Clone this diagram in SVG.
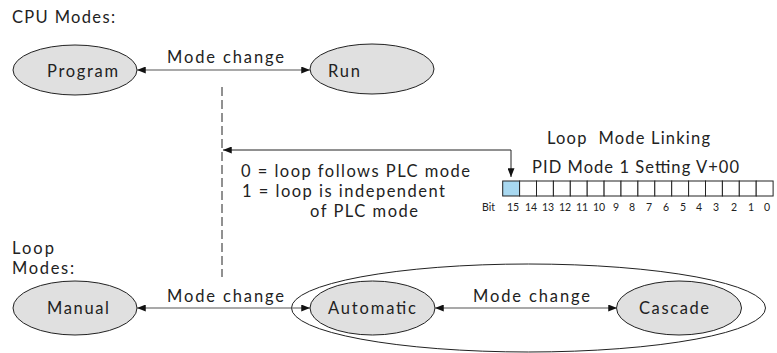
<svg xmlns="http://www.w3.org/2000/svg" width="777" height="353" viewBox="0 0 777 353">
<style>
text{font-family:Lato,"Open Sans","DejaVu Sans",sans-serif;fill:#222;}
.t{font-size:16.5px;}
.s{font-size:10.5px;}
.node{fill:#e0e0e0;stroke:#222;stroke-width:1;}
.outer{fill:none;stroke:#222;stroke-width:1;}
.conn{fill:none;stroke:#555;stroke-width:1.2;}
.link{fill:none;stroke:#222;stroke-width:1;}
.dash{fill:none;stroke:#222;stroke-width:1;stroke-dasharray:9 4;}
.box{fill:#fff;stroke:#222;stroke-width:1;}
.on{fill:#a8d8f0;}
.bit{text-anchor:middle;}
</style>
<defs>
<marker id="ah" viewBox="0 0 10 8" refX="10" refY="4" markerWidth="9" markerHeight="7" markerUnits="userSpaceOnUse" orient="auto-start-reverse">
<path d="M0,0 L10,4 L0,8 z" fill="#111"/>
</marker>
</defs>
<rect width="777" height="353" fill="#fff"/>

<g id="labels">
<text class="t" x="12" y="23" textLength="103" lengthAdjust="spacing">CPU Modes:</text>
<text class="t" x="12" y="253.5" textLength="42" lengthAdjust="spacing">Loop</text>
<text class="t" x="12" y="273.5" textLength="62" lengthAdjust="spacing">Modes:</text>
<text class="t" x="167" y="63" textLength="117" lengthAdjust="spacing">Mode change</text>
<text class="t" x="167" y="302" textLength="117" lengthAdjust="spacing">Mode change</text>
<text class="t" x="473" y="302" textLength="117" lengthAdjust="spacing">Mode change</text>
</g>

<g id="loop-group">
<ellipse class="outer" cx="528.5" cy="308" rx="237" ry="44"/>
</g>

<g id="program">
<ellipse class="node" cx="75" cy="70" rx="62" ry="25"/>
<text class="t" x="47" y="77" textLength="71" lengthAdjust="spacing">Program</text>
</g>
<g id="run">
<ellipse class="node" cx="372" cy="69" rx="62" ry="25"/>
<text class="t" x="328" y="77" textLength="32" lengthAdjust="spacing">Run</text>
</g>
<g id="manual">
<ellipse class="node" cx="75" cy="308" rx="62" ry="27"/>
<text class="t" x="47" y="314" textLength="62" lengthAdjust="spacing">Manual</text>
</g>
<g id="automatic">
<ellipse class="node" cx="372.5" cy="308" rx="62.5" ry="27"/>
<text class="t" x="328" y="314" textLength="88" lengthAdjust="spacing">Automatic</text>
</g>
<g id="cascade">
<ellipse class="node" cx="679" cy="308" rx="62.5" ry="27"/>
<text class="t" x="639" y="314" textLength="70" lengthAdjust="spacing">Cascade</text>
</g>

<g id="linking-notes">
<text class="t" x="241" y="177" textLength="229" lengthAdjust="spacing">0 = loop follows PLC mode</text>
<text class="t" x="242" y="197" textLength="203" lengthAdjust="spacing">1 = loop is independent</text>
<text class="t" x="310" y="217" textLength="108" lengthAdjust="spacing">of PLC mode</text>
</g>

<g id="register">
<text class="t" x="547" y="144" textLength="163" lengthAdjust="spacing" style="white-space:pre">Loop  Mode Linking</text>
<text class="t" x="532" y="173" textLength="207" lengthAdjust="spacing">PID Mode 1 Setting V+00</text>
<rect class="box on" x="502.7" y="181" width="16.9" height="15"/>
<rect class="box" x="519.6" y="181" width="16.9" height="15"/>
<rect class="box" x="536.5" y="181" width="16.9" height="15"/>
<rect class="box" x="553.4" y="181" width="16.9" height="15"/>
<rect class="box" x="570.3" y="181" width="16.9" height="15"/>
<rect class="box" x="587.2" y="181" width="16.9" height="15"/>
<rect class="box" x="604.1" y="181" width="16.9" height="15"/>
<rect class="box" x="621.0" y="181" width="16.9" height="15"/>
<rect class="box" x="637.9" y="181" width="16.9" height="15"/>
<rect class="box" x="654.8" y="181" width="16.9" height="15"/>
<rect class="box" x="671.7" y="181" width="16.9" height="15"/>
<rect class="box" x="688.6" y="181" width="16.9" height="15"/>
<rect class="box" x="705.5" y="181" width="16.9" height="15"/>
<rect class="box" x="722.4" y="181" width="16.9" height="15"/>
<rect class="box" x="739.3" y="181" width="16.9" height="15"/>
<rect class="box" x="756.2" y="181" width="16.9" height="15"/>
<text class="s" x="482" y="211">Bit</text>
<text class="s bit" x="513" y="211">15</text>
<text class="s bit" x="531" y="211">14</text>
<text class="s bit" x="548" y="211">13</text>
<text class="s bit" x="565" y="211">12</text>
<text class="s bit" x="582" y="211">11</text>
<text class="s bit" x="599" y="211">10</text>
<text class="s bit" x="616" y="211">9</text>
<text class="s bit" x="632" y="211">8</text>
<text class="s bit" x="649" y="211">7</text>
<text class="s bit" x="666" y="211">6</text>
<text class="s bit" x="683" y="211">5</text>
<text class="s bit" x="699" y="211">4</text>
<text class="s bit" x="716" y="211">3</text>
<text class="s bit" x="734" y="211">2</text>
<text class="s bit" x="751" y="211">1</text>
<text class="s bit" x="767" y="211">0</text>
</g>

<g id="connectors">
<path class="conn" d="M137,70 H310" marker-start="url(#ah)" marker-end="url(#ah)"/>
<path class="conn" d="M137,308 H310" marker-start="url(#ah)" marker-end="url(#ah)"/>
<path class="conn" d="M435,308 H617" marker-start="url(#ah)" marker-end="url(#ah)"/>
<path class="dash" d="M222,87 V277"/>
<path class="link" d="M511,177 V150 H223" marker-start="url(#ah)" marker-end="url(#ah)"/>
</g>
</svg>
